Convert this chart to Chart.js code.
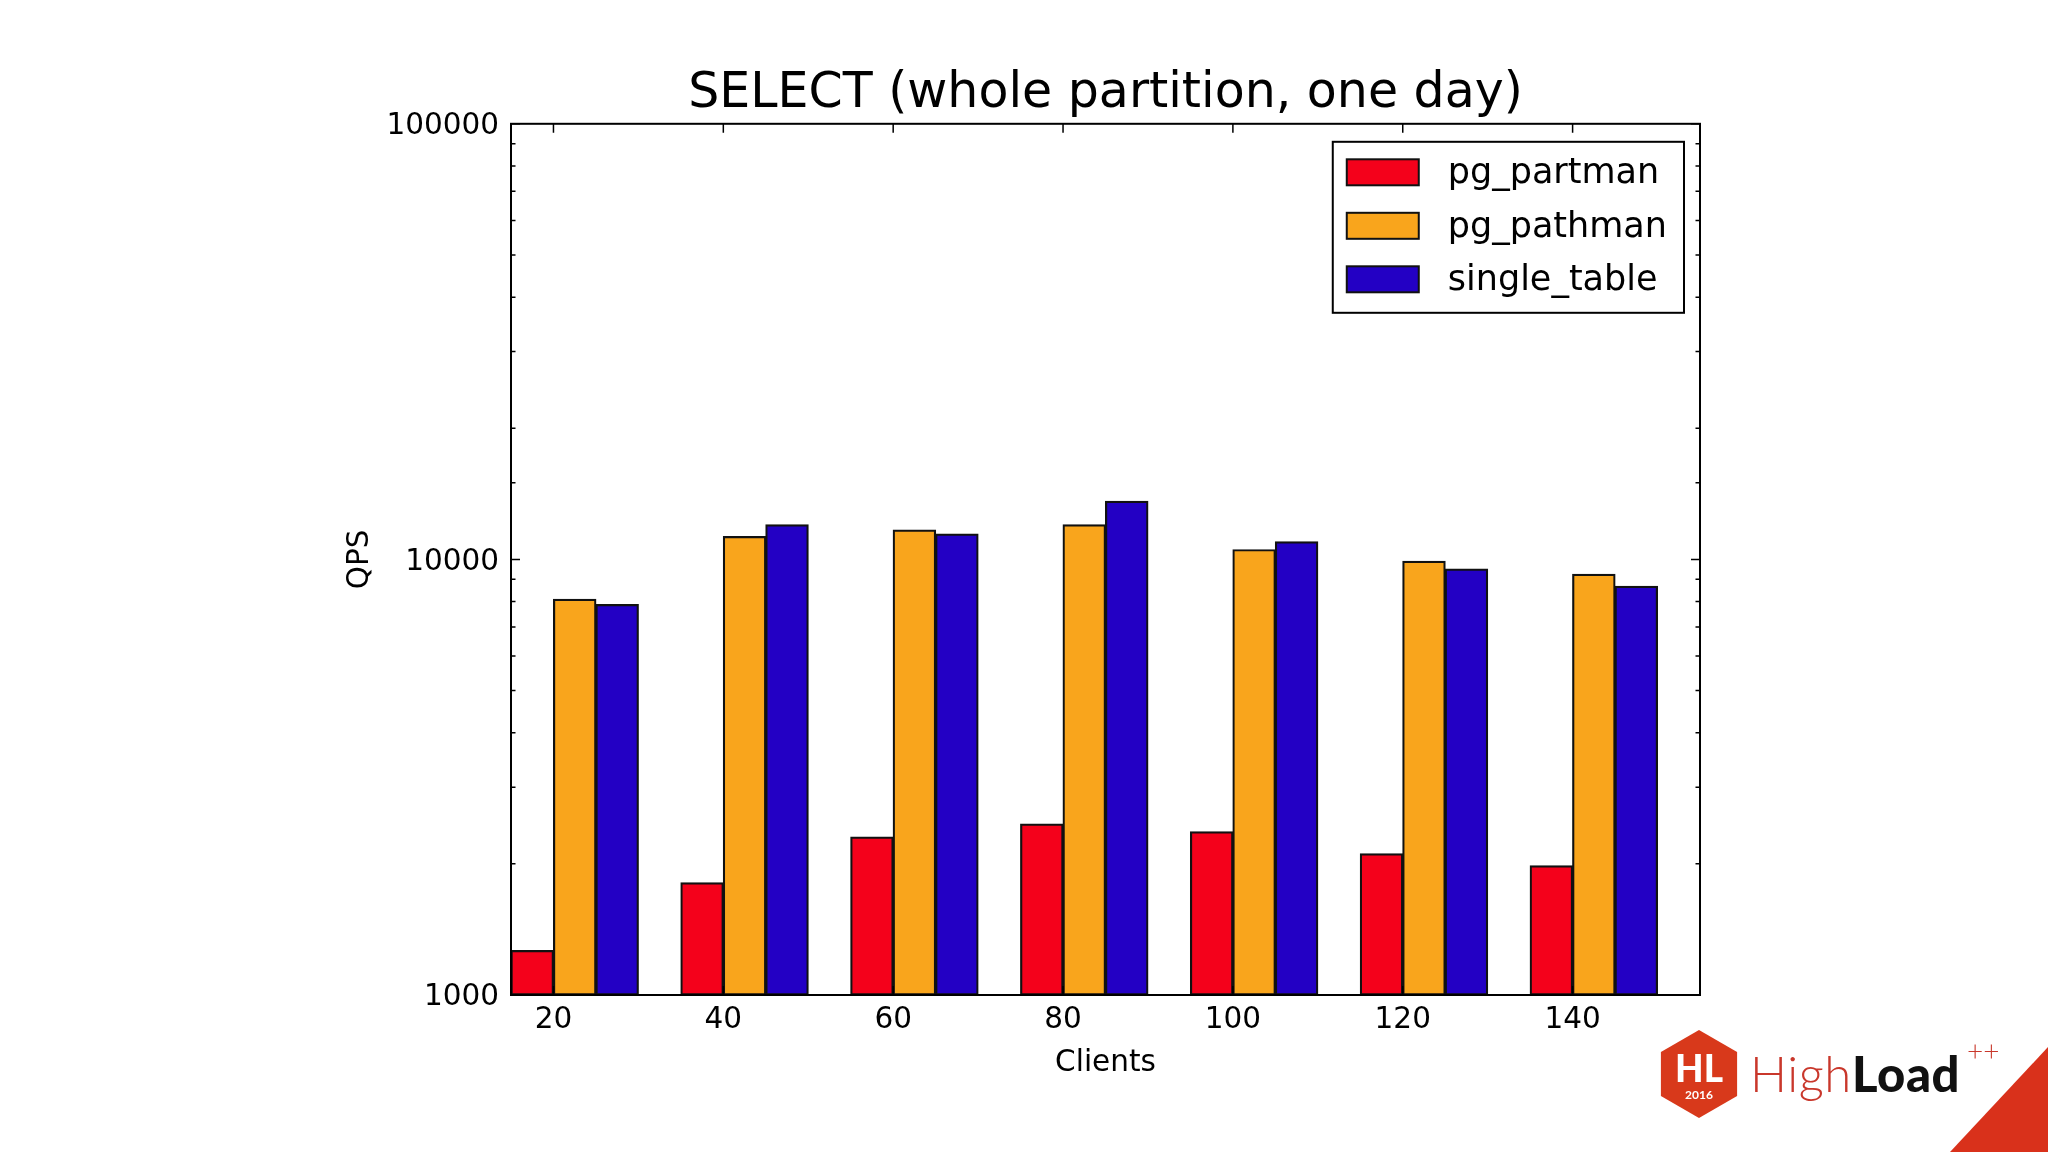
<!DOCTYPE html>
<html>
<head>
<meta charset="utf-8">
<title>SELECT (whole partition, one day)</title>
<script src="https://cdn.jsdelivr.net/npm/chart.js@4.4.0/dist/chart.umd.min.js"></script>
<style>
    html, body { margin: 0; padding: 0; background: #ffffff; }
    #wrap { position: relative; width: 2048px; height: 1152px; overflow: hidden; }
    #chart { position: absolute; left: 0; top: 0; }
    #deco { position: absolute; left: 0; top: 0; pointer-events: none; }
</style>
</head>
<body>
<div id="wrap">
    <canvas id="chart" width="2048" height="1152"></canvas>
    <svg id="deco" width="2048" height="1152" viewBox="0 0 2048 1152">
        <!-- red corner of the slide -->
        <polygon points="1950,1152 2048,1047 2048,1152" fill="#d9311b"/>
        <!-- HighLoad++ logo -->
        <g transform="translate(1655,1025)">
            <polygon points="44,5 82.1,27 82.1,71 44,93 5.9,71 5.9,27" fill="#d8391b"/>
            <text x="44" y="57" text-anchor="middle" fill="#fff" font-family="Lato, 'DejaVu Sans'" font-weight="900" font-size="37">HL</text>
            <text x="44" y="74" text-anchor="middle" fill="#fff" font-family="Lato, 'DejaVu Sans'" font-weight="700" font-size="12">2016</text>
            <text x="95" y="67" font-family="Lato, 'Open Sans'" font-size="49" letter-spacing="0.6"><tspan fill="#c9372b" font-weight="300">High</tspan><tspan fill="#111" font-weight="900">Load</tspan></text>
            <text x="312" y="36" fill="#c9372b" font-family="Lato, 'Open Sans'" font-weight="300" font-size="28">++</text>
        </g>
    </svg>
</div>
<script>
// Data
const clients = [20, 40, 60, 80, 100, 120, 140];
const pgPartman = [1265, 1810, 2305, 2470, 2370, 2110, 1980];
const pgPathman = [8100, 11280, 11680, 12010, 10530, 9900, 9240];
const singleTable = [7880, 12010, 11440, 13600, 10980, 9500, 8680];
const yTickLabels = [1000, 10000, 100000];
const seriesNames = ['pg_partman', 'pg_pathman', 'single_table'];
const seriesColors = ['#f4011b', '#f9a51c', '#2300c4'];

// Width of one bar in x units; the group starts one bar left of the tick
const BAR_W = 5;

Chart.defaults.font.family = '"DejaVu Sans", sans-serif';
Chart.defaults.color = '#000';

function toPoints(values) {
    // group of 3 bars spans [c - BAR_W, c + 2 * BAR_W], so its centre is c + BAR_W / 2
    return clients.map((c, i) => ({ x: c + BAR_W / 2, y: values[i] }));
}

const datasets = [pgPartman, pgPathman, singleTable].map((values, i) => ({
    label: seriesNames[i],
    data: toPoints(values),
    backgroundColor: seriesColors[i],
    borderColor: '#111',
    borderWidth: 2.2,
    borderSkipped: false,
    inflateAmount: 0.5,
    categoryPercentage: 0.75,
    barPercentage: 1.0
}));

/**
 * Draw the axes box, inward tick marks and a legend inside the plot
 */
const framePlugin = {
    id: 'framePlugin',
    afterDatasetsDraw(chart) {
        const { ctx, chartArea: a, scales: { x, y } } = chart;
        ctx.save();
        ctx.strokeStyle = '#000';
        ctx.beginPath();
        x.ticks.forEach(t => {
            const px = x.getPixelForValue(t.value);
            ctx.moveTo(px, a.bottom);
            ctx.lineTo(px, a.bottom - 9);
            ctx.moveTo(px, a.top);
            ctx.lineTo(px, a.top + 9);
        });
        y.ticks.forEach(t => {
            const py = y.getPixelForValue(t.value);
            const len = yTickLabels.includes(t.value) ? 9 : 4.5;
            ctx.moveTo(a.left, py);
            ctx.lineTo(a.left + len, py);
            ctx.moveTo(a.right, py);
            ctx.lineTo(a.right - len, py);
        });
        ctx.lineWidth = 1.5;
        ctx.stroke();
        ctx.lineWidth = 2;
        ctx.strokeRect(a.left, a.top, a.right - a.left, a.bottom - a.top);
        ctx.restore();
    },
    afterDraw(chart) {
        const { ctx, chartArea: a } = chart;
        const sets = chart.data.datasets;
        ctx.save();
        ctx.font = '35px "DejaVu Sans"';
        const textW = Math.max(...sets.map(d => ctx.measureText(d.label).width));
        const padL = 14, patchW = 72, patchH = 26, gap = 29, padR = 17;
        const firstRow = 30.5, rowH = 53.5, boxH = 171;
        const boxW = padL + patchW + gap + textW + padR;
        const left = a.right - 16 - boxW;
        const top = a.top + 18;

        ctx.fillStyle = '#fff';
        ctx.fillRect(left, top, boxW, boxH);
        ctx.lineWidth = 2;
        ctx.strokeStyle = '#000';
        ctx.strokeRect(left, top, boxW, boxH);

        ctx.textBaseline = 'middle';
        ctx.textAlign = 'left';
        sets.forEach((d, i) => {
            const cy = top + firstRow + i * rowH;
            ctx.fillStyle = d.backgroundColor;
            ctx.fillRect(left + padL, cy - patchH / 2, patchW, patchH);
            ctx.strokeStyle = '#111';
            ctx.strokeRect(left + padL, cy - patchH / 2, patchW, patchH);
            ctx.fillStyle = '#000';
            ctx.fillText(d.label, left + padL + patchW + gap, cy + 2);
        });
        ctx.restore();
    }
};

const ctx = document.getElementById('chart').getContext('2d');
window.selectChart = new Chart(ctx, {
    type: 'bar',
    data: { datasets: datasets },
    plugins: [framePlugin],
    options: {
        responsive: false,
        devicePixelRatio: 1,
        animation: false,
        layout: { padding: { left: 0, top: 54, right: 348, bottom: 0 } },
        plugins: {
            legend: { display: false },
            tooltip: { enabled: false },
            title: {
                display: true,
                text: 'SELECT (whole partition, one day)',
                font: { size: 49, weight: 'normal', lineHeight: 1.2 },
                color: '#000',
                fullSize: false,
                padding: { top: 11, bottom: 0 }
            }
        },
        scales: {
            x: {
                type: 'linear',
                min: 15,
                max: 155,
                offset: false,
                afterBuildTicks: scale => {
                    scale.ticks = clients.map(v => ({ value: v }));
                },
                afterFit: scale => { scale.height = 157; },
                grid: { display: false, drawTicks: false },
                border: { display: false },
                ticks: {
                    font: { size: 29.5 },
                    color: '#000',
                    padding: 8,
                    autoSkip: false,
                    maxRotation: 0
                },
                title: {
                    display: true,
                    text: 'Clients',
                    font: { size: 29.5 },
                    color: '#000',
                    padding: { top: 0, bottom: 71 }
                }
            },
            y: {
                type: 'logarithmic',
                min: 1000,
                max: 100000,
                afterFit: scale => { scale.width = 511; },
                grid: { display: false, drawTicks: false },
                border: { display: false },
                ticks: {
                    font: { size: 29.5 },
                    color: '#000',
                    padding: 12,
                    labelOffset: 2.5,
                    autoSkip: false,
                    callback: v => yTickLabels.includes(v) ? String(v) : ''
                },
                title: {
                    display: true,
                    text: 'QPS',
                    font: { size: 29.5 },
                    color: '#000',
                    padding: { top: 343, bottom: 0 }
                }
            }
        }
    }
});
</script>
</body>
</html>
